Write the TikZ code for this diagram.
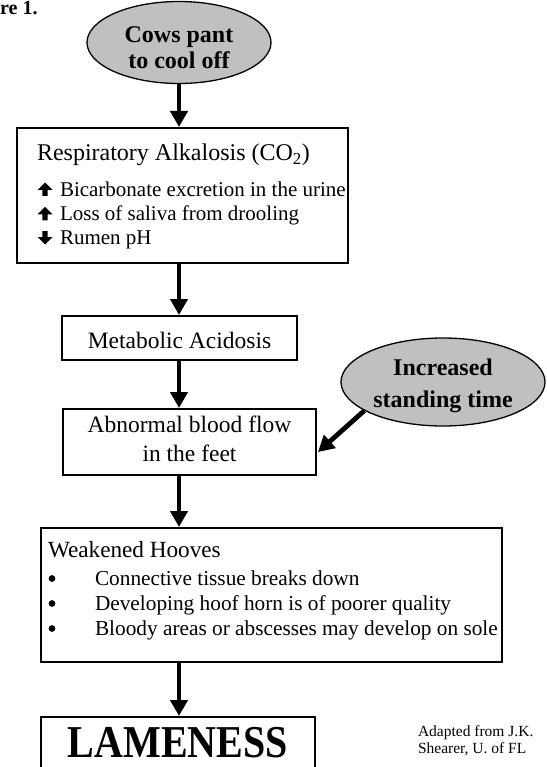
\documentclass[tikz,border=0pt]{standalone}
\usepackage{fontspec}
\setmainfont{Liberation Serif}
\usetikzlibrary{shapes.geometric,arrows.meta}
\definecolor{ellgray}{RGB}{192,192,192}
% zero-size text block: #1 alignment (c/l), #2 raise of first baseline above node centre, #3 width, #4 content
\newcommand{\tbx}[4]{\makebox[0pt][#1]{\raisebox{#2}[0pt][0pt]{\parbox[t]{#3}{\setlength{\lineskiplimit}{-100pt}#4}}}}
\begin{document}
\begin{tikzpicture}[x=1pt,y=-1pt,
  box/.style={draw,line width=2pt,rectangle,inner sep=0pt},
  oval/.style={draw,line width=1.3pt,ellipse,fill=ellgray,inner sep=0pt},
  flow/.style={line width=4.8pt,-{Triangle[width=17pt,length=16pt]}}]
\clip (0,0) rectangle (546,767);

\node[anchor=base west,inner sep=0pt,font=\fontsize{20}{24}\selectfont\bfseries] (fig) at (0,15) {re 1.};

\node[oval,minimum width=184pt,minimum height=82pt] (e1) at (179,42.5)
  {\tbx{c}{-0.5pt}{170pt}{\centering\fontsize{24}{25.5}\selectfont\bfseries Cows pant\\to cool off}};

\node[box,minimum width=331pt,minimum height=135pt] (b1) at (182.5,195.5)
  {\tbx{c}{34.5pt}{331pt}{\fontsize{24}{27}\selectfont\hspace*{20pt}Respiratory Alkalosis (CO\textsubscript{2})\par
   \fontsize{21}{24.3}\selectfont\vspace{11pt}%
   \hspace*{43pt}Bicarbonate excretion in the urine\par
   \hspace*{43pt}Loss of saliva from drooling\par
   \hspace*{43pt}Rumen pH}};

\node[box,minimum width=235pt,minimum height=44pt] (b2) at (179.5,338)
  {\tbx{c}{-10pt}{235pt}{\centering\fontsize{23.5}{28}\selectfont Metabolic Acidosis}};

\node[box,minimum width=253pt,minimum height=66pt] (b3) at (189.5,442)
  {\tbx{c}{10pt}{253pt}{\centering\fontsize{23.5}{29}\selectfont Abnormal blood flow\\in the feet}};

\node[oval,minimum width=204pt,minimum height=88pt] (e2) at (443,382)
  {\tbx{c}{7pt}{200pt}{\centering\fontsize{24}{32.5}\selectfont\bfseries Increased\\standing time}};

\node[box,minimum width=461pt,minimum height=134pt] (b4) at (271.5,595)
  {\tbx{c}{38pt}{461pt}{\fontsize{23.2}{27}\selectfont\hspace*{7pt}Weakened Hooves\par
   \fontsize{21.3}{25}\selectfont\vspace{3pt}%
   \hspace*{54pt}Connective tissue breaks down\par
   \hspace*{54pt}Developing hoof horn is of poorer quality\par
   \hspace*{54pt}Bloody areas or abscesses may develop on sole}};

\node[box,minimum width=274pt,minimum height=66pt] (lm) at (178,750)
  {\tbx{c}{-7pt}{274pt}{\centering\fontsize{40}{40}\selectfont\bfseries\scalebox{1}[1.14]{LAMENESS}}};

\node[inner sep=0pt] (src) at (418,736)
  {\tbx{l}{0pt}{150pt}{\raggedright\fontsize{15.5}{17}\selectfont Adapted from J.K.\\Shearer, U. of FL}};

% bullet arrows in the first box
\fill (45,196) ++(-2.7,0) -- ++(5.4,0) -- ++(0,-6) -- ++(4.8,0) -- ++(-7.5,-7.5) -- ++(-7.5,7.5) -- ++(4.8,0) -- cycle;
\fill (45,220.3) ++(-2.7,0) -- ++(5.4,0) -- ++(0,-6) -- ++(4.8,0) -- ++(-7.5,-7.5) -- ++(-7.5,7.5) -- ++(4.8,0) -- cycle;
\fill (45,231) ++(-2.7,0) -- ++(5.4,0) -- ++(0,6) -- ++(4.8,0) -- ++(-7.5,7.5) -- ++(-7.5,-7.5) -- ++(4.8,0) -- cycle;

% bullets in the weakened-hooves box
\fill (52,578.5) circle (3.4);
\fill (52,603.5) circle (3.4);
\fill (52,628.5) circle (3.4);

% connectors
\draw[flow] (e1.south) -- (b1.north -| e1.south);
\draw[flow] (b1.south -| e1.south) -- (b2.north -| e1.south);
\draw[flow] (b2.south -| e1.south) -- (b3.north -| e1.south);
\draw[flow] (b3.south -| e1.south) -- (b4.north -| e1.south);
\draw[flow] (b4.south -| e1.south) -- (lm.north -| e1.south);
\draw[flow] (e2.200) -- ([xshift=1pt,yshift=-10pt]b3.east);
\end{tikzpicture}
\end{document}
